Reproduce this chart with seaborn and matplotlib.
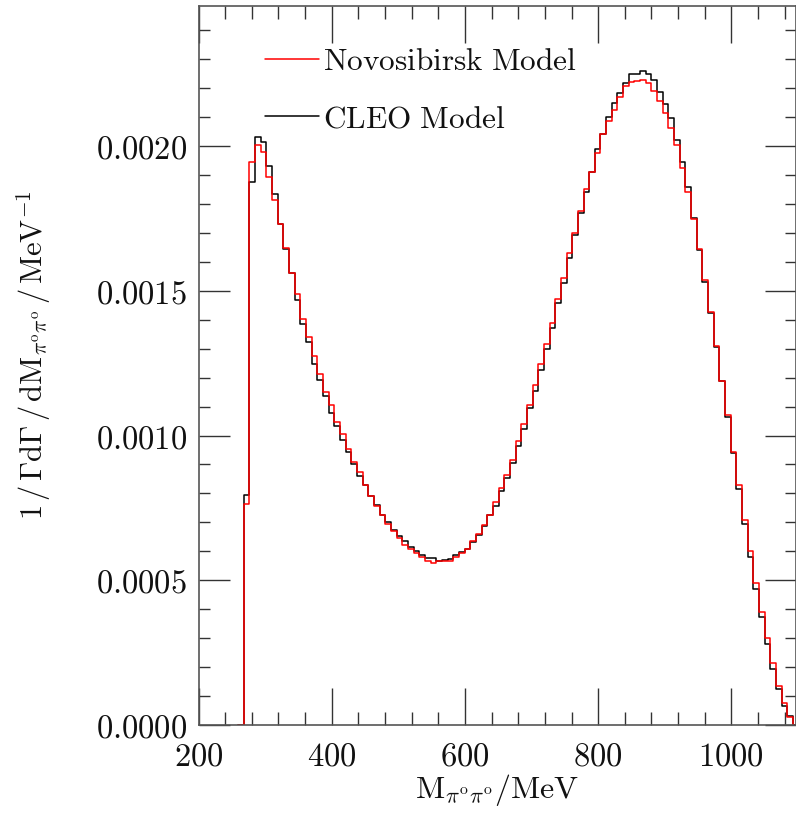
import numpy as np
import pandas as pd
import matplotlib
matplotlib.use("Agg")
import matplotlib.pyplot as plt
import seaborn as sns
from matplotlib.ticker import MultipleLocator, FuncFormatter

# ---- data ----
BIN_START = 268.0   # MeV, lower edge of first bin
BIN_WIDTH = 8.5     # MeV

cleo_model = [
    0.000796, 0.001876, 0.002033, 0.002015, 0.001930, 0.001836, 0.001732, 0.001644,
    0.001560, 0.001470, 0.001387, 0.001324, 0.001248, 0.001191, 0.001136, 0.001078,
    0.001034, 0.000986, 0.000943, 0.000902, 0.000859, 0.000830, 0.000791, 0.000761,
    0.000727, 0.000703, 0.000675, 0.000654, 0.000634, 0.000615, 0.000600, 0.000589,
    0.000577, 0.000577, 0.000566, 0.000571, 0.000574, 0.000586, 0.000597, 0.000609,
    0.000632, 0.000657, 0.000686, 0.000727, 0.000758, 0.000807, 0.000852, 0.000906,
    0.000963, 0.001023, 0.001096, 0.001153, 0.001228, 0.001298, 0.001373, 0.001459,
    0.001528, 0.001612, 0.001693, 0.001768, 0.001840, 0.001911, 0.001990, 0.002043,
    0.002099, 0.002150, 0.002183, 0.002217, 0.002250, 0.002250, 0.002258, 0.002250,
    0.002228, 0.002187, 0.002146, 0.002098, 0.002022, 0.001946, 0.001860, 0.001752,
    0.001642, 0.001530, 0.001425, 0.001306, 0.001188, 0.001063, 0.000938, 0.000816,
    0.000695, 0.000582, 0.000469, 0.000372, 0.000280, 0.000193, 0.000125, 0.000066,
    0.000030,
]

novosibirsk_model = [
    0.000764, 0.001946, 0.002004, 0.001978, 0.001894, 0.001814, 0.001730, 0.001647,
    0.001561, 0.001490, 0.001401, 0.001341, 0.001274, 0.001213, 0.001149, 0.001104,
    0.001048, 0.001006, 0.000954, 0.000908, 0.000873, 0.000830, 0.000790, 0.000758,
    0.000727, 0.000696, 0.000670, 0.000645, 0.000623, 0.000608, 0.000593, 0.000579,
    0.000567, 0.000560, 0.000566, 0.000565, 0.000565, 0.000582, 0.000594, 0.000609,
    0.000634, 0.000660, 0.000692, 0.000727, 0.000769, 0.000818, 0.000862, 0.000915,
    0.000982, 0.001040, 0.001105, 0.001176, 0.001246, 0.001315, 0.001390, 0.001471,
    0.001546, 0.001629, 0.001699, 0.001776, 0.001851, 0.001911, 0.001975, 0.002043,
    0.002088, 0.002126, 0.002168, 0.002207, 0.002220, 0.002224, 0.002230, 0.002217,
    0.002190, 0.002157, 0.002116, 0.002064, 0.002004, 0.001926, 0.001842, 0.001747,
    0.001644, 0.001537, 0.001428, 0.001309, 0.001188, 0.001070, 0.000943, 0.000830,
    0.000709, 0.000600, 0.000490, 0.000392, 0.000300, 0.000213, 0.000136, 0.000077,
    0.000027,
]

x_ticks = [200, 400, 600, 800, 1000]
y_ticks = [0.0000, 0.0005, 0.0010, 0.0015, 0.0020]

labels = ["Novosibirsk Model", "CLEO Model"]

# ---- style ----
sns.set_theme(style="white")
plt.rcParams["mathtext.fontset"] = "cm"
plt.rcParams["font.family"] = ["DejaVu Serif"]

n = len(cleo_model)
edges = [float(e) for e in BIN_START + BIN_WIDTH * np.arange(-1, n + 2)]
centers = BIN_START + BIN_WIDTH * (np.arange(n) + 0.5)

df_cleo = pd.DataFrame({"mass": centers, "rate": cleo_model})
df_novo = pd.DataFrame({"mass": centers, "rate": novosibirsk_model})

fig = plt.figure(figsize=(7.96, 8.19), dpi=100)
fig.patch.set_facecolor("white")
ax = fig.add_axes([198.5 / 796, 1 - 725 / 819, (796 - 198.5) / 796, (725 - 6) / 819])

sns.histplot(data=df_cleo, x="mass", weights="rate", bins=edges, element="step",
             fill=False, color="black", linewidth=1.1, ax=ax)
sns.histplot(data=df_novo, x="mass", weights="rate", bins=edges, element="step",
             fill=False, color="red", linewidth=1.1, ax=ax)

ax.set_xlim(200, 1097)
ax.set_ylim(0, 0.002484)

ax.set_xticks(x_ticks)
ax.set_yticks(y_ticks)
ax.xaxis.set_minor_locator(MultipleLocator(40))
ax.yaxis.set_minor_locator(MultipleLocator(0.0001))
ax.xaxis.set_major_formatter(FuncFormatter(lambda v, p: r"$%d$" % round(v)))
ax.yaxis.set_major_formatter(FuncFormatter(lambda v, p: r"$%.4f$" % v))

ax.tick_params(which="both", direction="in", top=True, right=True,
               bottom=True, left=True,
               color="#333333", width=1.0, labelsize=23.5, labelcolor="#111111")
ax.tick_params(axis="x", which="major", length=26.5, pad=11)
ax.tick_params(axis="x", which="minor", length=9.4)
ax.tick_params(axis="y", which="major", length=22.3, pad=8)
ax.tick_params(axis="y", which="minor", length=8)

for s in ax.spines.values():
    s.set_color("#555555")
    s.set_linewidth(1.2)

ax.set_xlabel(r"$\mathrm{M}_{\pi^{\mathrm{o}}\pi^{\mathrm{o}}}/\mathrm{MeV}$",
              fontsize=23, color="#111111")
ax.set_ylabel(r"$1\,/\,\Gamma\mathrm{d}\Gamma\,/\,\mathrm{dM}_{\pi^{\mathrm{o}}\pi^{\mathrm{o}}}\,/\,\mathrm{MeV}^{-1}$",
              fontsize=22, color="#111111")
ax.xaxis.set_label_coords(0.5, -0.066)
ax.yaxis.set_label_coords(-0.243, 0.515)

lines = ax.get_lines()
leg = ax.legend([lines[1], lines[0]],
                [r"$\mathrm{Novosibirsk\ Model}$", r"$\mathrm{CLEO\ Model}$"],
                loc="upper left", bbox_to_anchor=(0.1113, 0.945), frameon=False,
                fontsize=22.5, handlelength=1.72, handletextpad=0.15,
                labelspacing=0.85, borderpad=0, borderaxespad=0)
for t in leg.get_texts():
    t.set_color("#111111")

fig.savefig("out.png", dpi=100, facecolor="white")
